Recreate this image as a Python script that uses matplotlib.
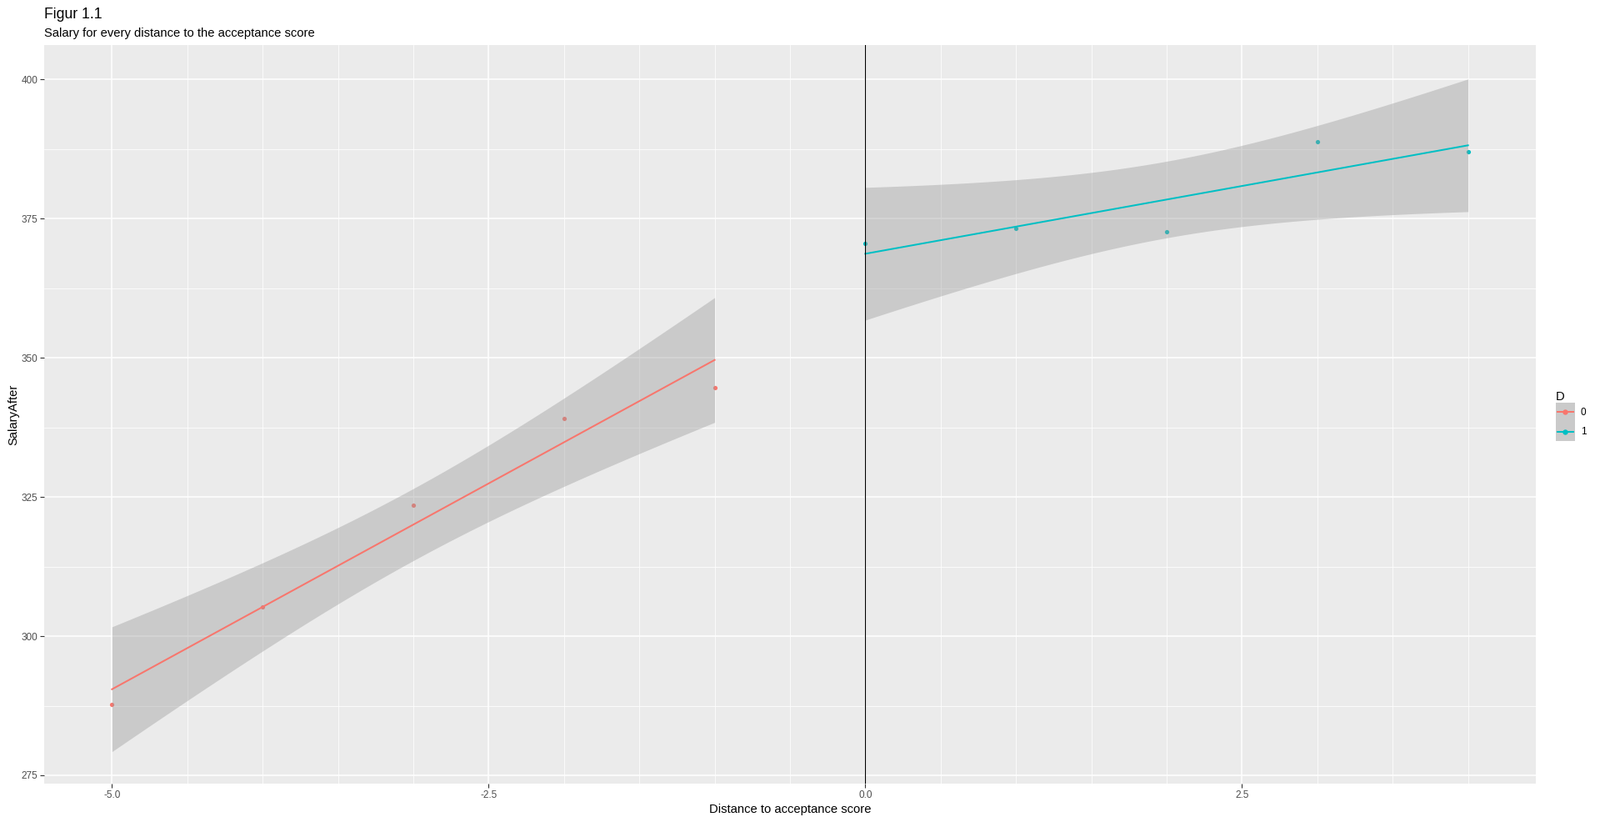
import numpy as np
import matplotlib
matplotlib.use('Agg')
import matplotlib.pyplot as plt
from matplotlib.lines import Line2D
from matplotlib.patches import Rectangle
from matplotlib.legend_handler import HandlerBase
from matplotlib.ticker import MultipleLocator, FixedLocator

# data
dist_0 = [-5, -4, -3, -2, -1]
salary_0 = [287.7, 305.2, 323.5, 339.1, 344.7]
dist_1 = [0, 1, 2, 3, 4]
salary_1 = [370.5, 373.2, 372.6, 388.9, 387.0]
groups = ['0', '1']
colors = ['#F8766D', '#00BFC4']
T_CRIT = 3.182446  # t(0.975, df=3), n=5 per group

plt.rcParams['font.family'] = ['Liberation Sans', 'DejaVu Sans']

def lm_band(x, y, n=80):
    x = np.asarray(x, float); y = np.asarray(y, float)
    b1, b0 = np.polyfit(x, y, 1)
    res = y - (b0 + b1*x)
    s = np.sqrt(np.sum(res**2)/(len(x)-2))
    xs = np.linspace(x.min(), x.max(), n)
    fit = b0 + b1*xs
    se = s*np.sqrt(1.0/len(x) + (xs-x.mean())**2/np.sum((x-x.mean())**2))
    return xs, fit, fit - T_CRIT*se, fit + T_CRIT*se

class SmoothKey(HandlerBase):
    # gray key box with the line and point centred, like ggplot
    def create_artists(self, legend, orig_handle, xdescent, ydescent, width, height, fontsize, trans):
        x0, y0 = -xdescent, -ydescent
        yc = y0 + height/2
        box = Rectangle((x0, y0), width, height, facecolor='#CACACA', edgecolor='none', transform=trans)
        ln = Line2D([x0+1.5, x0+width-1.5], [yc, yc], color=orig_handle.get_color(), lw=1.45, transform=trans)
        pt = Line2D([x0+width/2], [yc], color=orig_handle.get_color(), marker='o', markersize=3.6,
                    linestyle='none', transform=trans)
        return [box, ln, pt]

fig = plt.figure(figsize=(19.2, 9.86), dpi=100)
ax = fig.add_axes([53/1920, 1-940/986, (1843-53)/1920, (940-54)/986])
ax.set_facecolor('#EBEBEB')
for s in ax.spines.values():
    s.set_visible(False)

lines = []
for xd, yd, col in [(dist_0, salary_0, colors[0]), (dist_1, salary_1, colors[1])]:
    ax.scatter(xd, yd, s=14, color=col, zorder=3, linewidths=0)
    xs, fit, lo, hi = lm_band(xd, yd)
    ax.fill_between(xs, lo, hi, color='#999999', alpha=0.4, linewidth=0, zorder=4)
    l, = ax.plot(xs, fit, color=col, lw=1.45, zorder=5)
    lines.append(l)

ax.axvline(0, color='black', lw=0.8, zorder=6)

ax.set_xlim(-5.45, 4.45)
ax.set_ylim(273.5, 406.2)
ax.xaxis.set_major_locator(FixedLocator([-5, -2.5, 0, 2.5]))
ax.xaxis.set_minor_locator(FixedLocator([v for v in np.arange(-5, 4.01, 0.5) if v not in (-5, -2.5, 0, 2.5)]))
ax.set_xticklabels(['-5.0', '-2.5', '0.0', '2.5'])
ax.yaxis.set_major_locator(MultipleLocator(25))
ax.yaxis.set_minor_locator(FixedLocator([287.5, 312.5, 337.5, 362.5, 387.5]))
ax.grid(which='major', color='white', lw=1.1, zorder=0)
ax.grid(which='minor', color='white', lw=0.55, zorder=0)
ax.set_axisbelow(True)
ax.tick_params(which='major', length=3.7, width=0.8, color='#333333', labelsize=8.45,
               labelcolor='#4D4D4D', pad=2)
ax.tick_params(which='minor', length=0)

ax.set_xlabel('Distance to acceptance score', fontsize=10.6, labelpad=3)
fig.text(16/1920, 1-497/986, 'SalaryAfter', rotation=90, va='center', ha='center', fontsize=10.6)

fig.text(53/1920, 1-17/986, 'Figur 1.1', va='center', ha='left', fontsize=12.7)
fig.text(53/1920, 1-40/986, 'Salary for every distance to the acceptance score',
         va='center', ha='left', fontsize=10.6)

leg = fig.legend(lines, groups, loc='center left', bbox_to_anchor=(1867/1920, 1-499/986),
                 frameon=False, fontsize=8.45, title='D', title_fontsize=10.6,
                 handlelength=1.95, handleheight=2.65, labelspacing=0, borderpad=0,
                 borderaxespad=0, handletextpad=0.6, alignment='left',
                 handler_map={Line2D: SmoothKey()})

fig.savefig('out.png', dpi=100)
